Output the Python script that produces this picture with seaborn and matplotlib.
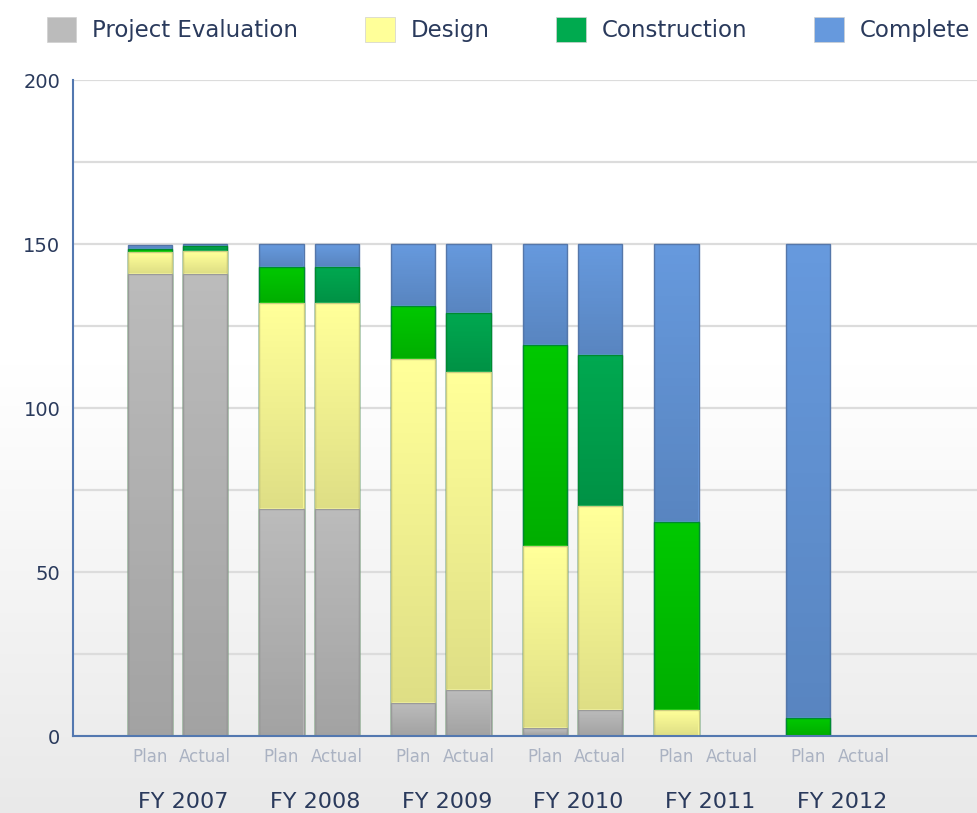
import numpy as np
import pandas as pd
import seaborn as sns
import matplotlib.pyplot as plt
import matplotlib.transforms as mtransforms
from matplotlib.patches import Patch

# -------------------------------------------------------
# Data
# -------------------------------------------------------
years = ["FY 2007", "FY 2008", "FY 2009", "FY 2010", "FY 2011", "FY 2012"]
kinds = ["Plan", "Actual"]
stages = ["Project Evaluation", "Design", "Construction", "Complete"]

plan_evaluation = [141, 69.2, 10.1, 2.3, 0, 0]
plan_design = [6.7, 62.8, 104.9, 55.5, 8, 0]
plan_construction = [0.7, 11, 16.2, 61.3, 57.3, 5.5]
plan_complete = [1.3, 7, 18.8, 30.9, 84.7, 144.5]

actual_evaluation = [141, 69.2, 14, 8, np.nan, np.nan]
actual_design = [7, 62.8, 97, 62, np.nan, np.nan]
actual_construction = [1.3, 11, 18, 46.3, np.nan, np.nan]
actual_complete = [0.7, 7, 21, 33.7, np.nan, np.nan]

# -------------------------------------------------------
# Long table with cumulative heights
# -------------------------------------------------------
series = {
    "Plan": [plan_evaluation, plan_design, plan_construction, plan_complete],
    "Actual": [actual_evaluation, actual_design, actual_construction, actual_complete],
}
rows = []
for kind, layers in series.items():
    for yi, year in enumerate(years):
        total = 0.0
        for stage, vals in zip(stages, layers):
            v = vals[yi]
            if np.isnan(v):
                continue
            total += v
            rows.append({"year": year, "kind": kind, "stage": stage, "cum": total})
df = pd.DataFrame(rows)

# -------------------------------------------------------
# Styling
# -------------------------------------------------------
sns.set_style("white")
plt.rcParams["font.family"] = ["DejaVu Sans"]

text_col = "#2a3a5c"
fills = {
    "Project Evaluation": {"Plan": "#bbbbbb", "Actual": "#bbbbbb"},
    "Design": {"Plan": "#ffff99", "Actual": "#ffff99"},
    "Construction": {"Plan": "#00c800", "Actual": "#00a850"},
    "Complete": {"Plan": "#6699dd", "Actual": "#6699dd"},
}
edges = {
    "Project Evaluation": "#9a9a9a",
    "Design": "#cccc80",
    "Construction": "#008a30",
    "Complete": "#5577aa",
}
legend_cols = ["#bbbbbb", "#ffff99", "#00aa4f", "#6699dd"]

fig = plt.figure(figsize=(9.78, 8.13), dpi=100)

# background gradient (white at top, light grey at bottom)
bg = fig.add_axes([0, 0, 1, 1], zorder=-1)
t = np.linspace(0, 1, 256)
shade = 1 - np.clip((t - 0.45) / 0.55, 0, 1) * 0.085
bg.imshow(np.dstack([shade, shade, shade]).reshape(256, 1, 3),
          aspect="auto", extent=[0, 1, 0, 1])
bg.axis("off")

ax = fig.add_axes([73 / 978, 77 / 813, 1 - 73 / 978, 656 / 813])
ax.set_facecolor("none")

# stacked bars: draw cumulative totals from the top layer down
for stage in reversed(stages):
    sns.barplot(
        data=df[df["stage"] == stage], x="year", y="cum", hue="kind",
        order=years, hue_order=kinds, palette=fills[stage],
        width=0.84, gap=0.2, saturation=1, errorbar=None, legend=False,
        edgecolor=edges[stage], linewidth=1, ax=ax,
    )

# soft vertical gradient on each visible segment
shade_img = np.zeros((64, 1, 4))
shade_img[:, 0, 3] = np.linspace(0.0, 0.13, 64)
groups = {}
for p in list(ax.patches):
    key = round(p.get_x(), 4)
    groups.setdefault(key, (p.get_x(), p.get_width(), []))[2].append(p.get_height())
for x0, w, hs in groups.values():
    lo = 0
    for hi in sorted(hs):
        if hi - lo > 0.4:
            ax.imshow(shade_img, extent=[x0 + 0.006, x0 + w - 0.006, lo + 0.3, hi - 0.3],
                      aspect="auto", zorder=1.5, interpolation="bilinear")
        lo = hi

# -------------------------------------------------------
# Axes
# -------------------------------------------------------
ax.set_xlim(-0.794, 6.08)
ax.set_ylim(0, 200)
ax.set_yticks([0, 50, 100, 150, 200])
ax.set_yticks([25, 75, 125, 175], minor=True)
ax.set_axisbelow(True)
ax.grid(axis="y", which="both", color="#dcdcdc", linewidth=1.6)
ax.grid(axis="x", visible=False)
for side in ["top", "right"]:
    ax.spines[side].set_visible(False)
for side in ["left", "bottom"]:
    ax.spines[side].set_color("#5378b0")
    ax.spines[side].set_linewidth(1.5)

ax.tick_params(axis="y", which="both", length=0, pad=9, labelsize=14, labelcolor=text_col)
ax.set_xticks(range(len(years)))
ax.set_xticklabels(years)
ax.tick_params(axis="x", length=0, pad=40, labelsize=16, labelcolor=text_col)
shift = mtransforms.ScaledTranslation(6 / 100, 0, fig.dpi_scale_trans)
for lab in ax.get_xticklabels():
    lab.set_transform(lab.get_transform() + shift)
ax.set_xlabel("")
ax.set_ylabel("")

for i in range(len(years)):
    for kind, off in zip(kinds, [-0.21, 0.21]):
        ax.text(i + off, -0.032, kind, transform=ax.get_xaxis_transform(),
                ha="center", va="center", fontsize=12, color="#aab2c2")

# legend across the top
handles = [Patch(facecolor=c, edgecolor="#d0d0d0", linewidth=0.5) for c in legend_cols]
fig.legend(handles, stages, loc="upper left", bbox_to_anchor=(26 / 978, 1 + 4 / 813),
           ncol=4, frameon=False, fontsize=16.5, labelcolor=text_col,
           handlelength=1.3, handleheight=1.3, handletextpad=0.7, columnspacing=2.9)

plt.savefig("out.png", dpi=100)
